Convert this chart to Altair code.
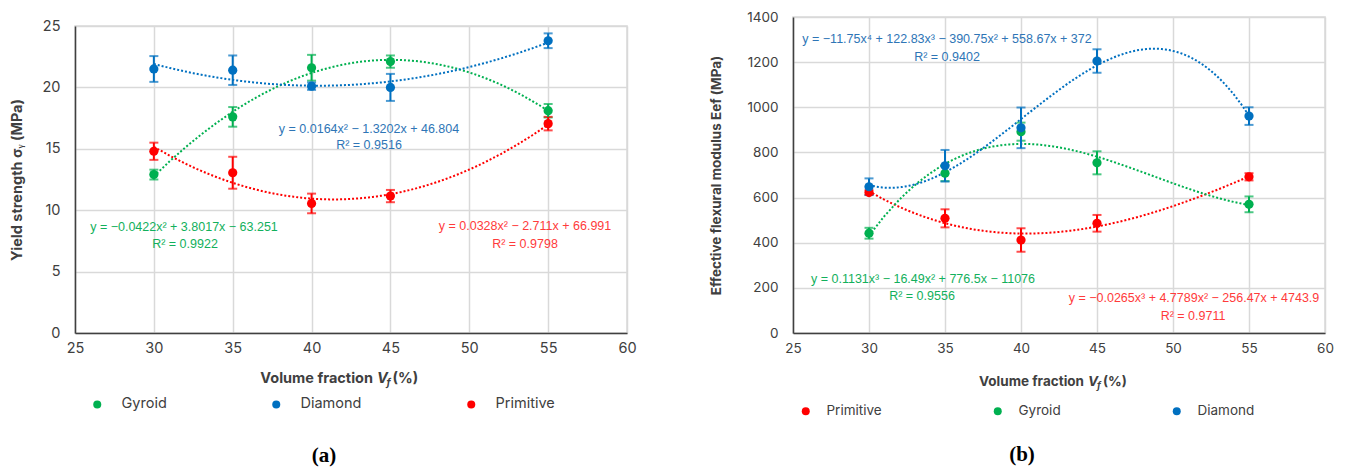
import altair as alt
import pandas as pd

# Volume fractions tested (%)
vf = [30, 35, 40, 45, 55]

# (a) Yield strength, mean and error (MPa)
ys_gyroid = [12.9, 17.6, 21.6, 22.1, 18.1]
ys_gyroid_err = [0.4, 0.8, 1.05, 0.5, 0.55]
ys_diamond = [21.5, 21.4, 20.1, 20.0, 23.8]
ys_diamond_err = [1.05, 1.2, 0.3, 1.1, 0.6]
ys_primitive = [14.8, 13.05, 10.55, 11.15, 17.05]
ys_primitive_err = [0.7, 1.3, 0.8, 0.5, 0.55]

# (b) Effective flexural modulus, mean and error (MPa)
em_primitive = [622, 508, 412, 486, 692]
em_primitive_err = [10, 40, 52, 37, 16]
em_gyroid = [442, 708, 892, 754, 570]
em_gyroid_err = [24, 35, 40, 51, 35]
em_diamond = [648, 741, 909, 1205, 961]
em_diamond_err = [37, 70, 90, 52, 39]

# Trendline equations
eq_ys_gyroid = ["y = −0.0422x² + 3.8017x − 63.251", "R² = 0.9922"]
eq_ys_diamond = ["y = 0.0164x² − 1.3202x + 46.804", "R² = 0.9516"]
eq_ys_primitive = ["y = 0.0328x² − 2.711x + 66.991", "R² = 0.9798"]
eq_em_diamond = ["y = −11.75x⁴ + 122.83x³ − 390.75x² + 558.67x + 372", "R² = 0.9402"]
eq_em_gyroid = ["y = 0.1131x³ − 16.49x² + 776.5x − 11076", "R² = 0.9556"]
eq_em_primitive = ["y = −0.0265x³ + 4.7789x² − 256.47x + 4743.9", "R² = 0.9711"]

COLORS = {"Gyroid": "#00B050", "Diamond": "#0070C0", "Primitive": "#FF0000"}
TEXT_COLORS = {"Gyroid": "#12B05C", "Diamond": "#2E75B6", "Primitive": "#FF3B3B"}
FONT = "Inter"
EQ_FONT = "Liberation Sans"
EQ_SIZE = 12.5
GRID = "#D9D9D9"
INK = "#404040"


def table(series):
    rows = []
    for name, means, errs in series:
        for v, m, e in zip(vf, means, errs):
            rows.append({"series": name, "vf": v, "val": m, "lo": m - e, "hi": m + e})
    return pd.DataFrame(rows)


def label(text, x, y, color, size, weight="normal", style="normal",
          align="center", font=EQ_FONT):
    return alt.Chart(alt.Data(values=[{}])).mark_text(
        text=text, color=color, fontSize=size, fontWeight=weight,
        fontStyle=style, align=align, baseline="middle", font=font,
    ).encode(x=alt.value(x), y=alt.value(y))


def x_title(end_x, y, size):
    """Volume fraction V_f (%) with an italic, subscripted V_f."""
    return [
        label("Volume fraction", end_x, y, INK, size, weight="bold", align="right", font=FONT),
        label("V", end_x + 4, y, INK, size, weight="bold", style="italic", align="left", font=FONT),
        label("f", end_x + 4 + size * 0.66, y + 4, INK, size * 0.7, weight="bold",
              style="italic", align="left", font=FONT),
        label("(%)", end_x + 4 + size * 0.66 + 6, y, INK, size, weight="bold",
              align="left", font=FONT),
    ]


def panel(df, order, y_max, y_step, y_title, title_pad, w, h, fits, legend_xy,
          legend_pad, legend_offset, extra, font_size):
    x = alt.X("vf:Q", scale=alt.Scale(domain=[25, 60], nice=False),
              axis=alt.Axis(values=list(range(25, 61, 5)), title=None,
                            labelPadding=8, labelFontSize=font_size, labelFlush=False))

    def y_enc(field):
        return alt.Y(f"{field}:Q", scale=alt.Scale(domain=[0, y_max], nice=False),
                     axis=alt.Axis(values=list(range(0, y_max + 1, y_step)),
                                   title=y_title, labelPadding=15, format="d",
                                   labelFontSize=font_size, titleFontSize=font_size,
                                   titlePadding=title_pad, labelFlush=False))

    legend = alt.Legend(
        title=None, orient="none", legendX=legend_xy[0], legendY=legend_xy[1],
        direction="horizontal", symbolType="circle", symbolSize=64,
        symbolStrokeWidth=0, symbolOpacity=1, labelFontSize=font_size,
        labelColor=INK, labelFont=FONT, columnPadding=legend_pad,
        labelOffset=legend_offset, padding=0)
    color = alt.Color("series:N", legend=legend,
                      scale=alt.Scale(domain=order, range=[COLORS[s] for s in order]))
    base = alt.Chart(df)

    trends = [
        base.transform_filter(alt.datum.series == s)
        .transform_regression("vf", "val", method="poly", order=o)
        .mark_line(color=COLORS[s], strokeDash=[2, 2], strokeWidth=2)
        .encode(x=x, y=y_enc("val"))
        for s, o in fits
    ]
    bars = base.mark_errorbar(ticks=True, thickness=2, size=9).encode(
        x=x, y=y_enc("lo"), y2="hi:Q", color=color)
    pts = base.mark_circle(size=85, opacity=1).encode(x=x, y=y_enc("val"), color=color)
    return alt.layer(*trends, bars, pts, *extra).properties(width=w, height=h)


df_ys = table([("Gyroid", ys_gyroid, ys_gyroid_err),
               ("Diamond", ys_diamond, ys_diamond_err),
               ("Primitive", ys_primitive, ys_primitive_err)])
df_em = table([("Primitive", em_primitive, em_primitive_err),
               ("Gyroid", em_gyroid, em_gyroid_err),
               ("Diamond", em_diamond, em_diamond_err)])

left_extra = [
    label(eq_ys_diamond[0], 294, 103, TEXT_COLORS["Diamond"], EQ_SIZE),
    label(eq_ys_diamond[1], 294, 119, TEXT_COLORS["Diamond"], EQ_SIZE),
    label(eq_ys_gyroid[0], 109, 201, TEXT_COLORS["Gyroid"], EQ_SIZE),
    label(eq_ys_gyroid[1], 110, 218, TEXT_COLORS["Gyroid"], EQ_SIZE),
    label(eq_ys_primitive[0], 450, 200, TEXT_COLORS["Primitive"], EQ_SIZE),
    label(eq_ys_primitive[1], 450, 218, TEXT_COLORS["Primitive"], EQ_SIZE),
    *x_title(298, 353, 14.5),
    label("(a)", 249, 430, "black", 21, weight="bold", font="Liberation Serif"),
]

right_extra = [
    label(eq_em_diamond[0], 154, 22, TEXT_COLORS["Diamond"], EQ_SIZE),
    label(eq_em_diamond[1], 154, 40, TEXT_COLORS["Diamond"], EQ_SIZE),
    label(eq_em_gyroid[0], 130, 262, TEXT_COLORS["Gyroid"], EQ_SIZE),
    label(eq_em_gyroid[1], 129, 279, TEXT_COLORS["Gyroid"], EQ_SIZE),
    label(eq_em_primitive[0], 401, 281, TEXT_COLORS["Primitive"], EQ_SIZE),
    label(eq_em_primitive[1], 400, 299, TEXT_COLORS["Primitive"], EQ_SIZE),
    *x_title(291, 365, 13.5),
    label("(b)", 229, 438, "black", 21, weight="bold", font="Liberation Serif"),
]

left = panel(df_ys, ["Gyroid", "Diamond", "Primitive"], 25, 5,
             "Yield strength σᵧ (MPa)", 18, 552, 307,
             [("Gyroid", 2), ("Diamond", 2), ("Primitive", 2)],
             (15, 380), 102, 17, left_extra, 14.5)

right = panel(df_em, ["Primitive", "Gyroid", "Diamond"], 1400, 200,
              "Effective flexural modulus Eef  (MPa)", 23, 532, 316,
              [("Primitive", 3), ("Gyroid", 3), ("Diamond", 3)],
              (6, 387), 109, 14, right_extra, 13.5)

# thin blank strip that sets the left panel a few pixels lower than the right one
strip = alt.Chart(alt.Data(values=[{}])).mark_rule(color="white").encode(
    x=alt.value(0), x2=alt.value(1), y=alt.value(0)
).properties(width=552, height=1, view=alt.ViewBackground(stroke="white"))

chart = (
    alt.hconcat(alt.vconcat(strip, left, spacing=-2), right, spacing=72)
    .resolve_scale(color="independent")
    .properties(padding={"left": 8, "top": 9, "right": 0, "bottom": 0},
                background="white")
    .configure(font=FONT)
    .configure_view(stroke=GRID, strokeWidth=1.5)
    .configure_axis(
        grid=True, gridColor=GRID, gridWidth=1.5,
        domainColor=INK, domainWidth=1.5, tickSize=0,
        labelColor=INK, labelFont=FONT, titleFont=FONT,
        titleColor=INK, titleFontWeight="bold",
    )
)

chart.save("out.html", embed_options={"renderer": "svg", "actions": False})
